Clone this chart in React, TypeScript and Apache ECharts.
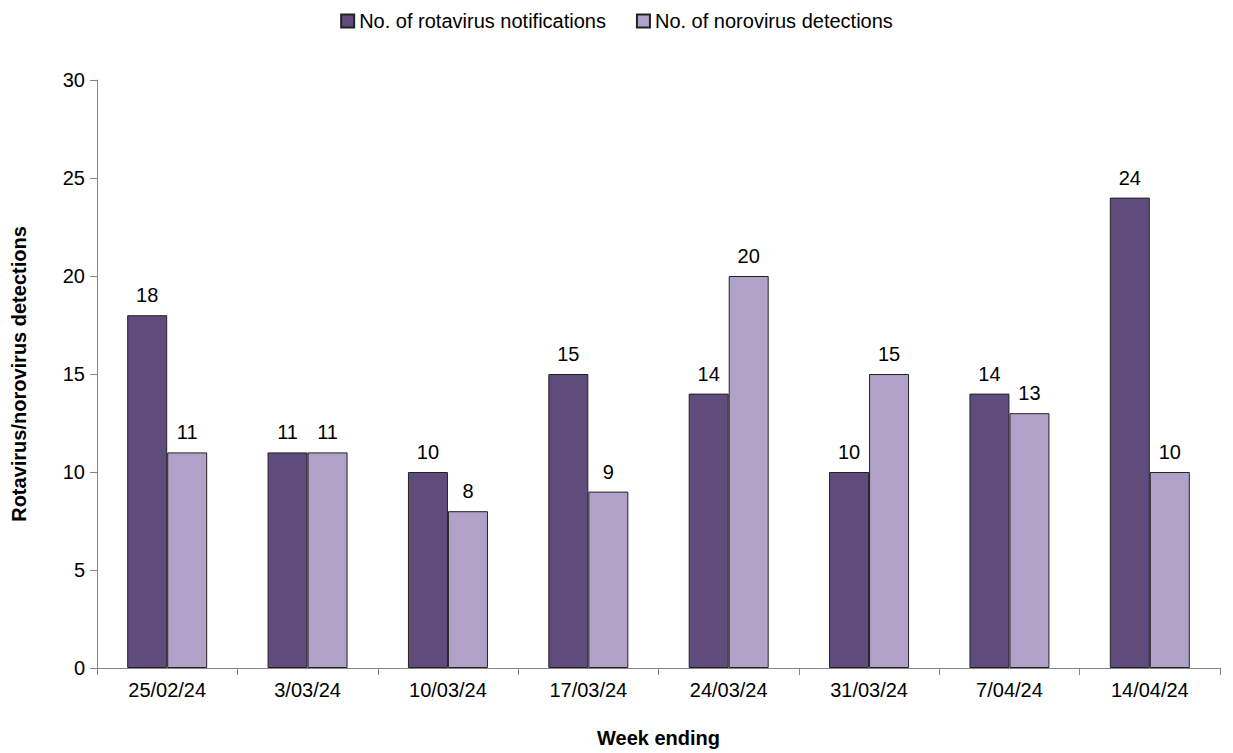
import { useRef, useEffect } from "react";
import * as echarts from "echarts";

const WEEKS = ["25/02/24", "3/03/24", "10/03/24", "17/03/24", "24/03/24", "31/03/24", "7/04/24", "14/04/24"];
const ROTAVIRUS = [18, 11, 10, 15, 14, 10, 14, 24];
const NOROVIRUS = [11, 11, 8, 9, 20, 15, 13, 10];

const FONT = "Liberation Sans, Arial, sans-serif";

export default function App() {
  const ref = useRef<HTMLDivElement>(null);

  useEffect(() => {
    if (!ref.current) return;
    const chart = echarts.init(ref.current, null, { renderer: "svg" });
    const label = { show: true, position: "top" as const, distance: 10, fontSize: 20, color: "#000", fontFamily: FONT };
    chart.setOption({
      animation: false,
      textStyle: { fontFamily: FONT },
      legend: {
        top: 6,
        left: "center",
        itemWidth: 13,
        itemHeight: 13,
        itemGap: 30,
        icon: "rect",
        textStyle: { fontSize: 20, color: "#000", fontFamily: FONT },
        data: ["No. of rotavirus notifications", "No. of norovirus detections"],
      },
      grid: { left: 97, right: 13, top: 80, bottom: 83, containLabel: false },
      xAxis: {
        type: "category",
        data: WEEKS,
        name: "Week ending",
        nameLocation: "middle",
        nameGap: 60,
        nameTextStyle: { fontSize: 20, fontWeight: "bold", color: "#000", fontFamily: FONT },
        axisLine: { lineStyle: { color: "#868686" } },
        axisTick: { show: true, length: 7, lineStyle: { color: "#868686" } },
        axisLabel: { fontSize: 20, color: "#000", margin: 12, fontFamily: FONT },
      },
      yAxis: {
        type: "value",
        min: 0,
        max: 30,
        interval: 5,
        name: "Rotavirus/norovirus detections",
        nameLocation: "middle",
        nameGap: 68,
        nameTextStyle: { fontSize: 20, fontWeight: "bold", color: "#000", fontFamily: FONT },
        axisLine: { show: true, lineStyle: { color: "#868686" } },
        axisTick: { show: true, length: 7, lineStyle: { color: "#868686" } },
        axisLabel: { fontSize: 20, color: "#000", margin: 12, fontFamily: FONT },
        splitLine: { show: false },
      },
      series: [
        {
          name: "No. of rotavirus notifications",
          type: "bar",
          data: ROTAVIRUS,
          barWidth: 40,
          barGap: "0%",
          itemStyle: { color: "#5f4b7c", borderColor: "#222", borderWidth: 1 },
          label,
        },
        {
          name: "No. of norovirus detections",
          type: "bar",
          data: NOROVIRUS,
          barWidth: 40,
          itemStyle: { color: "#b1a0c8", borderColor: "#222", borderWidth: 1 },
          label,
        },
      ],
    });
    return () => chart.dispose();
  }, []);

  return <div ref={ref} style={{ position: "fixed", left: 0, top: 0, width: 1233, height: 753, background: "#fff" }} />;
}
